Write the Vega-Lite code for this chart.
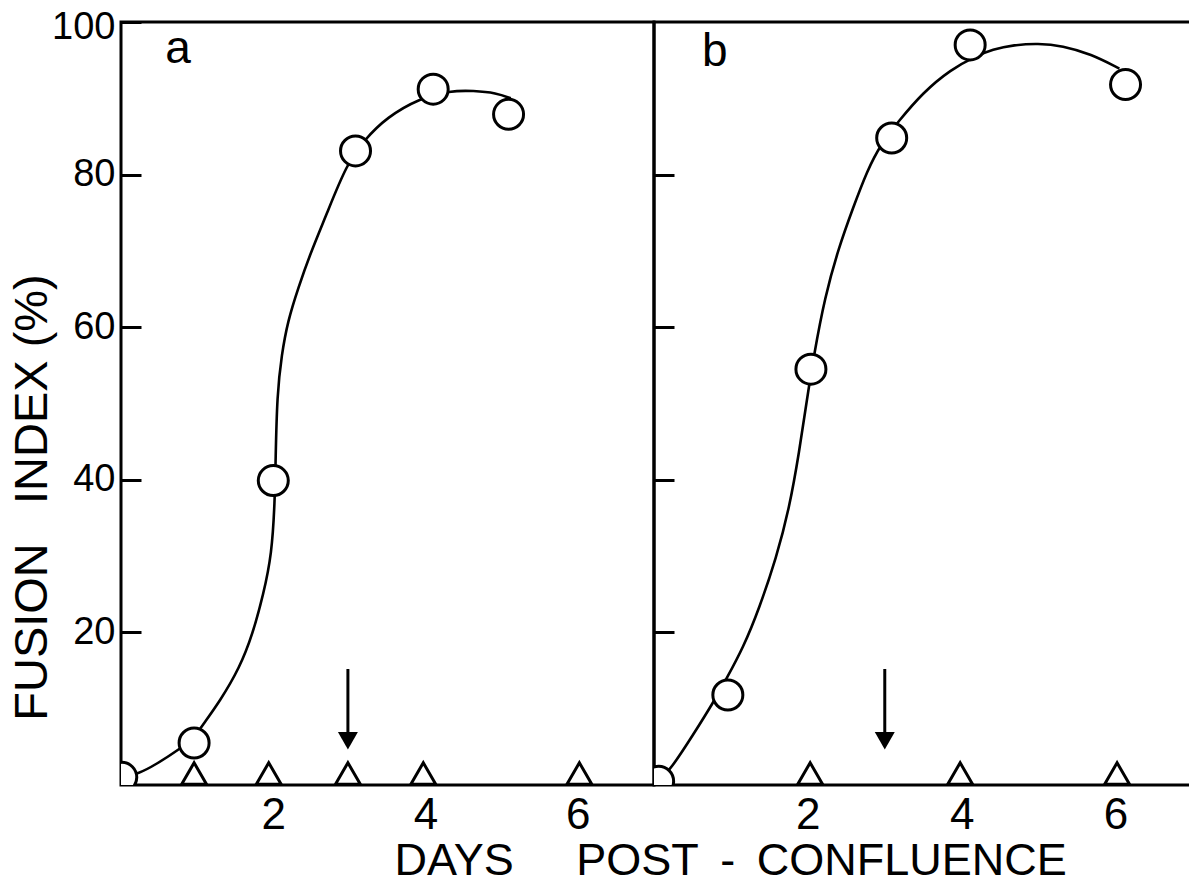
{
  "$schema": "https://vega.github.io/schema/vega-lite/v6.json",
  "background": "white",
  "padding": {"left": 6, "top": 6, "right": 0, "bottom": 0},
  "spacing": 0,
  "bounds": "flush",
  "title": {
    "text": "DAYS\u00a0\u00a0\u00a0\u00a0\u00a0POST\u00a0\u2009-\u00a0\u2009CONFLUENCE",
    "orient": "bottom",
    "anchor": "start",
    "font": "Liberation Sans",
    "fontSize": 45,
    "fontWeight": "normal",
    "color": "black",
    "dx": 388,
    "offset": 0
  },
  "datasets": {
    "circles": [
      {"p": "a", "day": 0.01, "v": 1.0},
      {"p": "a", "day": 0.96, "v": 5.5},
      {"p": "a", "day": 2.0, "v": 39.9},
      {"p": "a", "day": 3.08, "v": 83.1},
      {"p": "a", "day": 4.1, "v": 91.2},
      {"p": "a", "day": 5.09, "v": 87.9},
      {"p": "b", "day": 0.06, "v": 0.5},
      {"p": "b", "day": 0.96, "v": 11.8},
      {"p": "b", "day": 2.04, "v": 54.5},
      {"p": "b", "day": 3.09, "v": 84.8},
      {"p": "b", "day": 4.11, "v": 97.0},
      {"p": "b", "day": 6.13, "v": 91.8}
    ],
    "curve": [
      {"p": "a", "k": 0, "day": 0.02, "v": 1.2},
      {"p": "a", "k": 1, "day": 0.22, "v": 1.4},
      {"p": "a", "k": 2, "day": 0.46, "v": 2.7},
      {"p": "a", "k": 3, "day": 0.77, "v": 4.7},
      {"p": "a", "k": 4, "day": 0.96, "v": 6.2},
      {"p": "a", "k": 5, "day": 1.06, "v": 7.7},
      {"p": "a", "k": 6, "day": 1.30, "v": 11.0},
      {"p": "a", "k": 7, "day": 1.56, "v": 15.4},
      {"p": "a", "k": 8, "day": 1.73, "v": 19.8},
      {"p": "a", "k": 9, "day": 1.87, "v": 25.0},
      {"p": "a", "k": 10, "day": 1.98, "v": 30.2},
      {"p": "a", "k": 11, "day": 2.02, "v": 37.2},
      {"p": "a", "k": 12, "day": 2.03, "v": 42.5},
      {"p": "a", "k": 13, "day": 2.05, "v": 51.2},
      {"p": "a", "k": 14, "day": 2.11, "v": 56.4},
      {"p": "a", "k": 15, "day": 2.19, "v": 60.8},
      {"p": "a", "k": 16, "day": 2.33, "v": 65.2},
      {"p": "a", "k": 17, "day": 2.48, "v": 69.5},
      {"p": "a", "k": 18, "day": 2.70, "v": 74.8},
      {"p": "a", "k": 19, "day": 2.96, "v": 81.3},
      {"p": "a", "k": 20, "day": 3.20, "v": 84.6},
      {"p": "a", "k": 21, "day": 3.49, "v": 87.5},
      {"p": "a", "k": 22, "day": 3.92, "v": 90.0},
      {"p": "a", "k": 23, "day": 4.32, "v": 91.0},
      {"p": "a", "k": 24, "day": 4.63, "v": 91.0},
      {"p": "a", "k": 25, "day": 4.93, "v": 90.7},
      {"p": "a", "k": 26, "day": 5.12, "v": 90.0},
      {"p": "b", "k": 0, "day": 0.06, "v": 0.5},
      {"p": "b", "k": 1, "day": 0.22, "v": 2.1},
      {"p": "b", "k": 2, "day": 0.51, "v": 6.6},
      {"p": "b", "k": 3, "day": 0.77, "v": 10.8},
      {"p": "b", "k": 4, "day": 0.94, "v": 13.9},
      {"p": "b", "k": 5, "day": 1.16, "v": 18.0},
      {"p": "b", "k": 6, "day": 1.37, "v": 23.2},
      {"p": "b", "k": 7, "day": 1.59, "v": 29.8},
      {"p": "b", "k": 8, "day": 1.76, "v": 36.3},
      {"p": "b", "k": 9, "day": 1.89, "v": 43.8},
      {"p": "b", "k": 10, "day": 1.98, "v": 50.0},
      {"p": "b", "k": 11, "day": 2.08, "v": 56.4},
      {"p": "b", "k": 12, "day": 2.22, "v": 63.9},
      {"p": "b", "k": 13, "day": 2.40, "v": 70.4},
      {"p": "b", "k": 14, "day": 2.59, "v": 75.7},
      {"p": "b", "k": 15, "day": 2.77, "v": 80.5},
      {"p": "b", "k": 16, "day": 2.95, "v": 84.0},
      {"p": "b", "k": 17, "day": 3.18, "v": 87.0},
      {"p": "b", "k": 18, "day": 3.49, "v": 90.7},
      {"p": "b", "k": 19, "day": 3.86, "v": 93.8},
      {"p": "b", "k": 20, "day": 4.18, "v": 95.5},
      {"p": "b", "k": 21, "day": 4.40, "v": 96.4},
      {"p": "b", "k": 22, "day": 4.68, "v": 97.0},
      {"p": "b", "k": 23, "day": 4.99, "v": 97.2},
      {"p": "b", "k": 24, "day": 5.31, "v": 96.9},
      {"p": "b", "k": 25, "day": 5.68, "v": 95.8},
      {"p": "b", "k": 26, "day": 6.05, "v": 93.9}
    ],
    "triangles": [
      {"p": "a", "day": 0.96, "v": 1.5},
      {"p": "a", "day": 1.94, "v": 1.5},
      {"p": "a", "day": 2.98, "v": 1.5},
      {"p": "a", "day": 3.97, "v": 1.5},
      {"p": "a", "day": 6.02, "v": 1.5},
      {"p": "b", "day": 2.03, "v": 1.5},
      {"p": "b", "day": 3.98, "v": 1.5},
      {"p": "b", "day": 6.02, "v": 1.5}
    ],
    "arrows": [
      {"p": "a", "day": 2.98, "v": 15.2, "v2": 6.5},
      {"p": "b", "day": 3.0, "v": 15.2, "v2": 6.5}
    ],
    "heads": [
      {"p": "a", "day": 2.98, "v": 5.8},
      {"p": "b", "day": 3.0, "v": 5.8}
    ],
    "labels": [
      {"p": "a", "day": 0.75, "v": 94.6},
      {"p": "b", "day": 0.79, "v": 94.2}
    ]
  },
  "hconcat": [
    {
      "width": 533,
      "height": 763,
      "encoding": {
        "x": {
          "field": "day", "type": "quantitative",
          "scale": {"domain": [0, 7], "nice": false, "zero": false},
          "axis": {"values": [2, 4, 6], "ticks": false, "labelFontSize": 44, "labelPadding": 8, "title": null}
        },
        "y": {
          "field": "v", "type": "quantitative",
          "scale": {"domain": [0, 100], "nice": false},
          "axis": {
            "values": [20, 40, 60, 80, 100],
            "tickSize": -20,
            "labelFontSize": 38,
            "labelPadding": 26,
            "labelFlush": true,
            "labelFlushOffset": 14,
            "title": "FUSION\u00a0\u00a0\u00a0INDEX\u00a0(%)",
            "titleFontSize": 47,
            "titleAngle": 270,
            "titleX": -75,
            "titleY": 475,
            "titleBaseline": "alphabetic",
            "titleAlign": "center"
          }
        }
      },
      "layer": [
        {
          "data": {"name": "curve"},
          "transform": [{"filter": "datum.p == 'a'"}],
          "mark": {"type": "line", "interpolate": "basis", "color": "black", "strokeWidth": 2.6},
          "encoding": {"order": {"field": "k", "type": "quantitative"}}
        },
        {
          "data": {"name": "arrows"},
          "transform": [{"filter": "datum.p == 'a'"}],
          "mark": {"type": "rule", "color": "black", "strokeWidth": 3},
          "encoding": {"y2": {"field": "v2"}}
        },
        {
          "data": {"name": "heads"},
          "transform": [{"filter": "datum.p == 'a'"}],
          "mark": {"type": "point", "shape": "triangle-down", "filled": true, "color": "black", "opacity": 1, "size": 400}
        },
        {
          "data": {"name": "triangles"},
          "transform": [{"filter": "datum.p == 'a'"}],
          "mark": {"type": "point", "shape": "triangle-up", "filled": false, "color": "black", "opacity": 1, "strokeWidth": 3, "size": 620}
        },
        {
          "data": {"name": "circles"},
          "transform": [{"filter": "datum.p == 'a'"}],
          "mark": {"type": "point", "shape": "circle", "filled": true, "fill": "white", "stroke": "black", "opacity": 1, "strokeWidth": 3, "size": 900, "clip": true}
        },
        {
          "data": {"name": "labels"},
          "transform": [{"filter": "datum.p == 'a'"}],
          "mark": {"type": "text", "font": "Liberation Sans", "fontSize": 46, "align": "center", "baseline": "alphabetic", "color": "black"},
          "encoding": {"text": {"field": "p"}}
        }
      ]
    },
    {
      "width": 540,
      "height": 763,
      "encoding": {
        "x": {
          "field": "day", "type": "quantitative",
          "scale": {"domain": [0, 7.02], "nice": false, "zero": false},
          "axis": {"values": [2, 4, 6], "ticks": false, "labelFontSize": 44, "labelPadding": 8, "title": null}
        },
        "y": {
          "field": "v", "type": "quantitative",
          "scale": {"domain": [0, 100], "nice": false},
          "axis": {"values": [20, 40, 60, 80], "tickSize": -20, "labels": false, "title": null}
        }
      },
      "layer": [
        {
          "data": {"name": "curve"},
          "transform": [{"filter": "datum.p == 'b'"}],
          "mark": {"type": "line", "interpolate": "basis", "color": "black", "strokeWidth": 2.6},
          "encoding": {"order": {"field": "k", "type": "quantitative"}}
        },
        {
          "data": {"name": "arrows"},
          "transform": [{"filter": "datum.p == 'b'"}],
          "mark": {"type": "rule", "color": "black", "strokeWidth": 3},
          "encoding": {"y2": {"field": "v2"}}
        },
        {
          "data": {"name": "heads"},
          "transform": [{"filter": "datum.p == 'b'"}],
          "mark": {"type": "point", "shape": "triangle-down", "filled": true, "color": "black", "opacity": 1, "size": 400}
        },
        {
          "data": {"name": "triangles"},
          "transform": [{"filter": "datum.p == 'b'"}],
          "mark": {"type": "point", "shape": "triangle-up", "filled": false, "color": "black", "opacity": 1, "strokeWidth": 3, "size": 620}
        },
        {
          "data": {"name": "circles"},
          "transform": [{"filter": "datum.p == 'b'"}],
          "mark": {"type": "point", "shape": "circle", "filled": true, "fill": "white", "stroke": "black", "opacity": 1, "strokeWidth": 3, "size": 900, "clip": true}
        },
        {
          "data": {"name": "labels"},
          "transform": [{"filter": "datum.p == 'b'"}],
          "mark": {"type": "text", "font": "Liberation Sans", "fontSize": 46, "align": "center", "baseline": "alphabetic", "color": "black"},
          "encoding": {"text": {"field": "p"}}
        }
      ]
    }
  ],
  "config": {
    "font": "Liberation Sans",
    "view": {"stroke": "black", "strokeWidth": 3},
    "axis": {
      "grid": false,
      "domain": false,
      "labelFont": "Liberation Sans",
      "labelColor": "black",
      "tickColor": "black",
      "tickWidth": 3,
      "titleFont": "Liberation Sans",
      "titleColor": "black",
      "titleFontWeight": "normal"
    }
  }
}
